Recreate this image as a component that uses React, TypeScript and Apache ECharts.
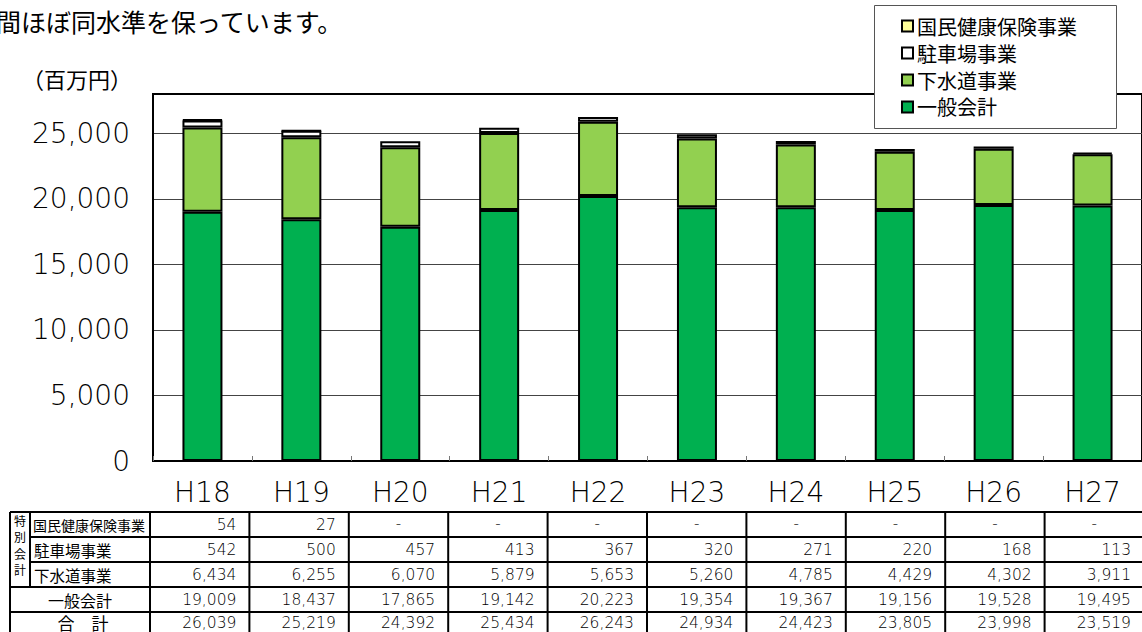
import React, { useEffect, useRef } from "react";
import * as echarts from "echarts";

const categories = ["H18", "H19", "H20", "H21", "H22", "H23", "H24", "H25", "H26", "H27"];
const generalAccount = [19009, 18437, 17865, 19142, 20223, 19354, 19367, 19156, 19528, 19495];
const sewerage = [6434, 6255, 6070, 5879, 5653, 5260, 4785, 4429, 4302, 3911];
const parking = [542, 500, 457, 413, 367, 320, 271, 220, 168, 113];
const healthInsurance: (number | null)[] = [54, 27, null, null, null, null, null, null, null, null];
const totals = [26039, 25219, 24392, 25434, 26243, 24934, 24423, 23805, 23998, 23519];

const seriesNames = ["一般会計", "下水道事業", "駐車場事業", "国民健康保険事業"];
const seriesColors = ["#00b050", "#92d050", "#ffffff", "#ffff99"];

const CJK = '"Noto Sans CJK JP", "Noto Sans", sans-serif';
const NUM = '"DejaVu Sans", sans-serif';
const NUM_WEIGHT = 200;

function fmt(v: number | null) {
  return v === null ? "-" : v.toLocaleString("en-US");
}

function buildTable() {
  const els: any[] = [];
  const top = 512;
  const rowH = 25;
  const x0 = 150;
  const colW = 99.4;
  const left = 10;
  const sub = 30;
  const right = x0 + colW * categories.length + 2;
  const bottom = top + rowH * 5 + 6;
  const line = (x1: number, y1: number, x2: number, y2: number) => ({
    type: "line",
    shape: { x1, y1, x2, y2 },
    style: { stroke: "#000", lineWidth: 2 },
    silent: true,
  });
  for (let i = 0; i <= 5; i++) {
    const y = top + i * rowH;
    els.push(line(i === 1 || i === 2 ? sub : left, y, right, y));
  }
  els.push(line(left, top, left, bottom));
  els.push(line(sub, top, sub, top + rowH * 3));
  for (let k = 0; k <= categories.length; k++) {
    const x = x0 + k * colW;
    els.push(line(x, top, x, bottom));
  }
  const txt = (text: string, x: number, y: number, size: number, family: string, align: string, weight: any = "normal") => ({
    type: "text",
    x,
    y,
    silent: true,
    style: {
      text,
      fill: "#000",
      fontSize: size,
      fontFamily: family,
      fontWeight: weight,
      align,
      textAlign: align,
      verticalAlign: "middle",
      textVerticalAlign: "middle",
    },
  });
  ["特", "別", "会", "計"].forEach((c, i) => els.push(txt(c, 20, 520.5 + i * 16.3, 12, CJK, "center")));
  const rows = [
    { label: "国民健康保険事業", values: healthInsurance, size: 14, lx: 33, align: "left" },
    { label: "駐車場事業", values: parking as (number | null)[], size: 15.5, lx: 34, align: "left" },
    { label: "下水道事業", values: sewerage as (number | null)[], size: 15.5, lx: 34, align: "left" },
    { label: "一般会計", values: generalAccount as (number | null)[], size: 16, lx: 80, align: "center" },
    { label: "合　計", values: totals as (number | null)[], size: 17, lx: 83, align: "center" },
  ];
  rows.forEach((r, ri) => {
    const cy = top + ri * rowH + rowH / 2;
    els.push(txt(r.label, r.lx, cy - (ri === 4 ? 2 : 0), r.size, CJK, r.align));
    r.values.forEach((v, ci) => {
      if (v === null) {
        els.push(txt("-", x0 + ci * colW + colW / 2, cy - 1, 15, NUM, "center", NUM_WEIGHT));
      } else {
        els.push(txt(fmt(v), x0 + (ci + 1) * colW - 13, cy - (ri === 4 ? 2 : 0), 15.5, NUM, "right", NUM_WEIGHT));
      }
    });
  });
  return els;
}

export default function App() {
  const ref = useRef<HTMLDivElement>(null);
  useEffect(() => {
    if (!ref.current) return;
    const chart = echarts.init(ref.current, null, { renderer: "svg" });
    const seriesData = [generalAccount, sewerage, parking, healthInsurance];
    chart.setOption({
      animation: false,
      backgroundColor: "#fff",
      grid: {
        left: 153,
        right: -2,
        top: 94,
        bottom: 171,
        show: true,
        borderColor: "#000",
        borderWidth: 2,
        backgroundColor: "transparent",
      },
      legend: {
        orient: "vertical",
        left: 901,
        top: 16,
        padding: 0,
        itemGap: 7,
        itemWidth: 11,
        itemHeight: 11,
        icon: "rect",
        z: 10,
        data: ["国民健康保険事業", "駐車場事業", "下水道事業", "一般会計"],
        itemStyle: { borderColor: "#000", borderWidth: 2 },
        textStyle: { fontFamily: CJK, fontSize: 20, color: "#000", padding: [0, 0, 0, -1] },
      },
      xAxis: {
        type: "category",
        data: categories,
        axisLine: { lineStyle: { color: "#000", width: 2 } },
        axisTick: { show: true, inside: true, length: 5, lineStyle: { color: "#777", width: 1 } },
        axisLabel: { fontFamily: NUM, fontSize: 28, fontWeight: NUM_WEIGHT, color: "#000", margin: 17 },
      },
      yAxis: {
        type: "value",
        min: 0,
        max: 28000,
        interval: 5000,
        axisLine: { show: true, lineStyle: { color: "#000", width: 2 } },
        axisTick: { show: false },
        axisLabel: {
          fontFamily: NUM,
          fontSize: 28,
          fontWeight: NUM_WEIGHT,
          color: "#000",
          margin: 23,
          showMaxLabel: false,
          formatter: (v: number) => v.toLocaleString("en-US"),
        },
        splitLine: {
          show: true,
          lineStyle: { color: ["#444", "#444", "#444", "#444", "#444", "#444", "#000"], width: 1 },
        },
      },
      series: seriesNames.map((name, i) => ({
        name,
        type: "bar",
        stack: "total",
        barWidth: 40,
        data: seriesData[i],
        itemStyle: { color: seriesColors[i], borderColor: "#000", borderWidth: 2 },
      })),
      graphic: [
        {
          type: "text",
          x: -4,
          y: 21,
          silent: true,
          style: {
            text: "間ほぼ同水準を保っています。",
            fill: "#000",
            fontSize: 25,
            fontFamily: CJK,
            verticalAlign: "middle",
            textVerticalAlign: "middle",
          },
        },
        {
          type: "text",
          x: 22,
          y: 78,
          silent: true,
          style: {
            text: "（百万円）",
            fill: "#000",
            fontSize: 22,
            fontFamily: CJK,
            verticalAlign: "middle",
            textVerticalAlign: "middle",
          },
        },
        {
          type: "rect",
          z: 5,
          silent: true,
          shape: { x: 874.5, y: 5.5, width: 242, height: 123 },
          style: { fill: "#fff", stroke: "#555", lineWidth: 1 },
        },
        ...buildTable(),
      ],
    });
    return () => chart.dispose();
  }, []);
  return (
    <div
      ref={ref}
      style={{ position: "absolute", left: 0, top: 0, width: 1142, height: 632 }}
    />
  );
}
